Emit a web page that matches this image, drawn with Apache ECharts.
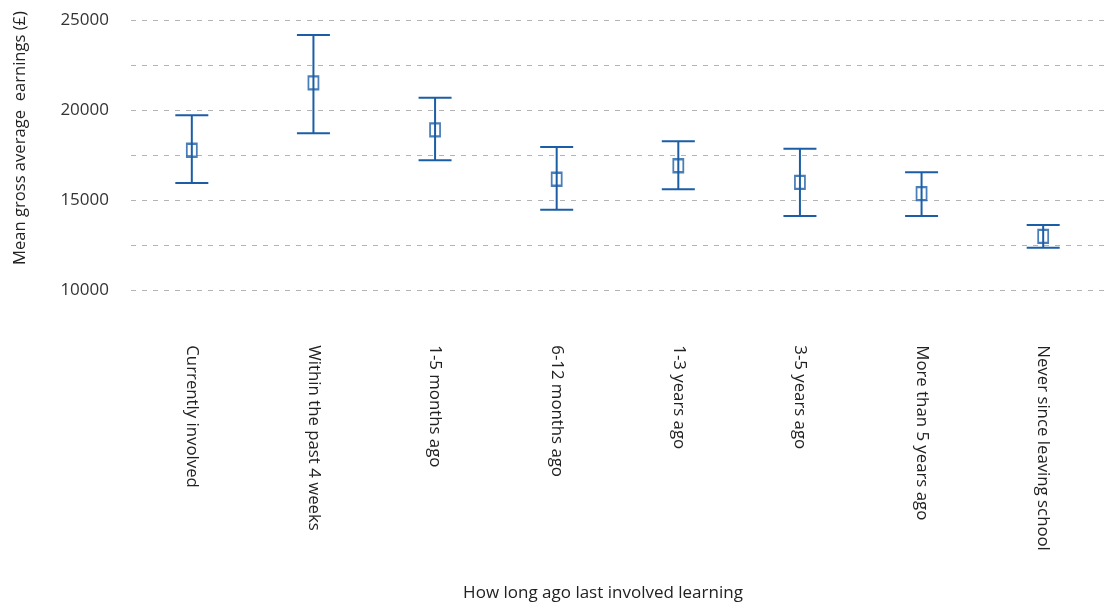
<!DOCTYPE html>
<html>
<head>
<meta charset="utf-8">
<script src="https://cdn.jsdelivr.net/npm/echarts@6/dist/echarts.min.js"></script>
<style>
  html, body { margin: 0; padding: 0; background: #ffffff; }
  #chart { width: 1104px; height: 607px; }
</style>
</head>
<body>
<div id="chart"></div>
<script>
// How long ago respondents were last involved in learning
const categories = [
  'Currently involved',
  'Within the past 4 weeks',
  '1-5 months ago',
  '6-12 months ago',
  '1-3 years ago',
  '3-5 years ago',
  'More than 5 years ago',
  'Never since leaving school'
];

// Mean gross average earnings (£) with lower / upper interval bounds
const meanEarnings = [17780, 21520, 18910, 16170, 16920, 16000, 15370, 13000];
const lowerBound   = [15960, 18720, 17220, 14480, 15610, 14130, 14130, 12370];
const upperBound   = [19720, 24180, 20700, 17960, 18280, 17870, 16560, 13630];

// Value axis ticks
const yMin = 10000;
const yMax = 25000;
const yStep = 2500;
const yLabelEvery = 5000;

const BLUE = '#1b5ea6';
const FONT = '"Open Sans", "DejaVu Sans", sans-serif';

const chart = echarts.init(document.getElementById('chart'));

const errorData = categories.map((c, i) => [i, lowerBound[i], upperBound[i]]);
const meanData = categories.map((c, i) => [i, meanEarnings[i]]);

chart.setOption({
  animation: false,
  backgroundColor: '#ffffff',
  grid: { left: 131, top: 20.3, width: 977, height: 270, containLabel: false },
  xAxis: {
    type: 'category',
    data: categories,
    boundaryGap: true,
    axisLine: { show: false },
    axisTick: { show: false },
    splitLine: { show: false },
    axisLabel: {
      rotate: -90,
      interval: 0,
      margin: 55,
      color: '#222222',
      fontSize: 16.8,
      fontFamily: FONT
    }
  },
  yAxis: {
    type: 'value',
    min: yMin,
    max: yMax,
    interval: yStep,
    axisLine: { show: false },
    axisTick: { show: false },
    axisLabel: {
      margin: 22,
      color: '#333333',
      fontSize: 17,
      fontFamily: FONT,
      formatter: v => (v % yLabelEvery === 0 ? String(v) : '')
    },
    splitLine: {
      show: true,
      lineStyle: { color: '#b4b4b4', type: [5, 6], width: 1 }
    }
  },
  series: [
    {
      type: 'custom',
      name: 'Interval',
      data: errorData,
      z: 2,
      renderItem: function (params, api) {
        const x = api.value(0);
        const lo = api.coord([x, api.value(1)]);
        const hi = api.coord([x, api.value(2)]);
        const half = 16.5;
        const style = { stroke: BLUE, lineWidth: 2 };
        return {
          type: 'group',
          children: [
            { type: 'line', shape: { x1: lo[0], y1: lo[1], x2: hi[0], y2: hi[1] }, style },
            { type: 'line', shape: { x1: hi[0] - half, y1: hi[1], x2: hi[0] + half, y2: hi[1] }, style },
            { type: 'line', shape: { x1: lo[0] - half, y1: lo[1], x2: lo[0] + half, y2: lo[1] }, style }
          ]
        };
      }
    },
    {
      type: 'scatter',
      name: 'Mean',
      data: meanData,
      z: 3,
      symbol: 'rect',
      symbolSize: [10, 13],
      itemStyle: { color: 'rgba(255,255,255,0)', borderColor: BLUE, borderWidth: 2 }
    }
  ],
  graphic: [
    {
      type: 'text',
      x: 20,
      y: 138,
      rotation: Math.PI / 2,
      style: {
        text: 'Mean gross average  earnings (£)',
        fill: '#222222',
        font: '16.6px ' + FONT,
        align: 'center',
        verticalAlign: 'middle'
      }
    },
    {
      type: 'text',
      x: 603,
      y: 593,
      style: {
        text: 'How long ago last involved learning',
        fill: '#222222',
        font: '17px ' + FONT,
        align: 'center',
        verticalAlign: 'middle'
      }
    }
  ]
});
</script>
</body>
</html>
